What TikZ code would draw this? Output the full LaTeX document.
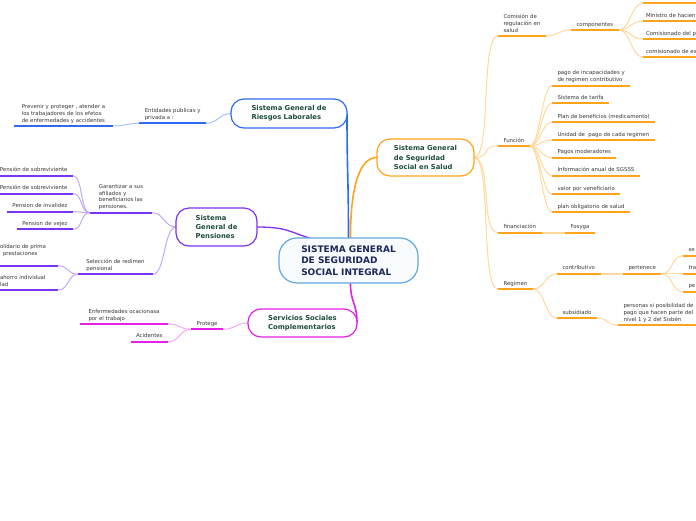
\documentclass[tikz,border=0pt]{standalone}
\usepackage{fontspec}
\setmainfont{DejaVu Sans}
\pgfdeclarelayer{bg}
\pgfsetlayers{bg,main}
\definecolor{orgM}{HTML}{FFA31A}
\definecolor{orgP}{HTML}{FFD89E}
\definecolor{bluM}{HTML}{2F6BF2}
\definecolor{bluP}{HTML}{A9C0F9}
\definecolor{purM}{HTML}{7D33F2}
\definecolor{purP}{HTML}{C4A8F8}
\definecolor{magM}{HTML}{E520E5}
\definecolor{magP}{HTML}{F4A9F4}
\definecolor{ctrB}{HTML}{62A9DD}
\definecolor{ctrF}{HTML}{F7FBFE}
\definecolor{ttlc}{HTML}{1E4D3B}
\definecolor{ctrT}{HTML}{1A2757}
\definecolor{txtc}{HTML}{383838}
\begin{document}
\begin{tikzpicture}[x=1pt,y=-1pt,
 sm/.style={font=\fontsize{5.4}{6.8}\selectfont, text=txtc, align=left, inner xsep=5.5pt, inner ysep=4pt, text depth=0pt, outer sep=0pt},
 rl/.style={sm, anchor=south west},
 ll/.style={sm, anchor=south east},
 llr/.style={sm, anchor=south east, align=right},
 topbox/.style={draw=#1, fill=white, line width=1.2pt, rounded corners=13pt, font=\fontsize{6.8}{9.2}\selectfont\bfseries, text=ttlc, align=left, inner sep=0pt, outer sep=0pt},
 ctrbox/.style={draw=ctrB, fill=ctrF, line width=1.2pt, rounded corners=18pt, font=\fontsize{9}{11.5}\selectfont\bfseries, text=ctrT, align=left, inner sep=0pt, outer sep=0pt},
 ul/.style={line width=2pt, draw=#1},
 pl/.style={line width=1pt, draw=#1},
 plw/.style={line width=2pt, draw=#1}
]
\useasboundingbox (0,0) rectangle (696,520);
\clip (0,0) rectangle (696,520);

% ---------- main boxes
\node[ctrbox, minimum width=139pt, minimum height=45pt] (ctr) at (348.5,260.5) {SISTEMA GENERAL\\DE SEGURIDAD\\SOCIAL INTEGRAL};
\node[topbox=orgM, minimum width=97pt, minimum height=37pt] (salud) at (425.5,157.5) {Sistema General\\de Seguridad\\Social en Salud};
\node[topbox=purM, minimum width=81pt, minimum height=38pt] (pen) at (216.5,227) {Sistema\\General de\\Pensiones};
\node[topbox=bluM, minimum width=116pt, minimum height=29pt] (ries) at (289,113.5) {Sistema General de\\Riesgos Laborales};
\node[topbox=magM, minimum width=109pt, minimum height=28pt] (serv) at (302.5,323) {Servicios Sociales\\Complementarios};

% ---------- Salud branch
\node[rl] (com) at (498,36) {Comisión de\\regulación en\\salud};
\node[rl] (compo) at (571,30) {componentes};
\node[rl, minimum width=60pt] (c1) at (643,3.3) {};
\node[rl, inner xsep=3pt] (c2) at (643,21) {Ministro de hacien};
\node[rl, inner xsep=3pt] (c3) at (643,39) {Comisionado del p};
\node[rl, inner xsep=3pt] (c4) at (643,57) {comisionado de ex};
\node[rl] (fun) at (498,146) {Función};
\node[rl] (f1) at (552,85.7) {pago de incapacidades y\\de regimen contributivo};
\node[rl] (f2) at (552,103.3) {Sistema de tarifa};
\node[rl] (f3) at (552,122.3) {Plan de beneficios (medicamento)};
\node[rl] (f4) at (552,140) {Unidad de\ \ pago de cada regimen};
\node[rl] (f5) at (552,157.7) {Pagos moderadores};
\node[rl] (f6) at (552,175.7) {Información anual de SGSSS};
\node[rl] (f7) at (552,194) {valor por veneficiario};
\node[rl] (f8) at (552,212) {plan obligatorio de salud};
\node[rl] (fin) at (498,232.7) {financiación};
\node[rl] (fos) at (565,232.7) {Fosyga};
\node[rl] (reg) at (498,289) {Regimen};
\node[rl] (con) at (557,273.7) {contributivo};
\node[rl] (per) at (623,273.7) {pertenece};
\node[rl] (p1) at (683,255.7) {se};
\node[rl] (p2) at (683,273.7) {tra};
\node[rl] (p3) at (683,291.7) {pe};
\node[rl] (sub) at (557,318.3) {subsidiado};
\node[rl] (pers) at (618,325) {personas si posibilidad de\\pago que hacen parte del\\nivel 1 y 2 del Sisbén};

% ---------- Riesgos branch
\node[ll] (ent) at (206,123.3) {Entidades publicas y\\privada a :};
\node[ll, minimum width=99pt] (prev) at (113,126) {Prevenir y proteger , atender a\\los trabajadores de los efetos\\de enfermedades y accidentes};

% ---------- Pensiones branch
\node[ll, minimum width=62pt] (gar) at (152,212.7) {Garantizar a sus\\afiliados y\\beneficiarios las\\pensiones.};
\node[llr] (ps1) at (73,175.7) {Pensión de sobreviviente};
\node[llr] (ps2) at (73,193.7) {Pensión de sobreviviente};
\node[llr] (pinv) at (73,211.7) {Pension de invalidez};
\node[llr] (pvej) at (73,229.3) {Pension de vejez};
\node[ll, minimum width=75pt] (sel) at (153,274.3) {Selección de redimen\\pensional};
\node[sm, anchor=south west, inner xsep=0pt, inner ysep=10pt] (sol) at (0,265.7) {olidario de prima\hspace*{12pt}\\\hspace*{3pt}prestaciones};
\node[sm, anchor=south west, inner xsep=0pt] (aho) at (0,290) {ahorro individual\hspace*{13pt}\\lad};

% ---------- Servicios branch
\node[ll] (prot) at (223,329.3) {Protege};
\node[ll, minimum width=88pt] (enf) at (168,324) {Enfermedades ocacionasa\\por el trabajo};
\node[ll] (acc) at (168,341.7) {Acidentes};

% ---------- underlines
\foreach \n in {com,compo,c1,c2,c3,c4,fun,f1,f2,f3,f4,f5,f6,f7,f8,fin,fos,reg,con,per,p1,p2,p3,sub,pers}
  \draw[ul=orgM] (\n.south west) -- (\n.south east);
\foreach \n in {ent,prev}
  \draw[ul=bluM] (\n.south west) -- (\n.south east);
\foreach \n in {gar,ps1,ps2,pinv,pvej,sel}
  \draw[ul=purM] (\n.south west) -- (\n.south east);
\foreach \n in {sol,aho}
  \draw[ul=purM] ([xshift=-3pt]\n.south west) -- (\n.south east);
\foreach \n in {prot,enf,acc}
  \draw[ul=magM] (\n.south west) -- (\n.south east);

% ---------- connectors
\begin{pgfonlayer}{bg}
\fill[white] (0,0) rectangle (696,520);
\draw[line width=1.6pt, bluM] (ries.east) .. controls +(0,60) and +(0,-60) .. (ctr.north);
\draw[line width=1.6pt, orgM] (ctr.85) .. controls +(0,-50) and +(-18,0) .. (salud.west);
\draw[line width=1.3pt, purM] (pen.east) .. controls +(30,0) and +(-20,-6) .. (ctr.150);
\draw[line width=1.6pt, magM] (ctr.-85) .. controls +(0,20) and +(0,-20) .. (serv.east);

\foreach \t in {com,fun,fin,reg}
  \draw[pl=orgP] (salud.east) .. controls +(18,0) and +(-18,0) .. (\t.south west);
\draw[pl=orgP] (com.south east) .. controls +(12,0) and +(-12,0) .. (compo.south west);
\foreach \t in {c1,c2,c3,c4}
  \draw[pl=orgP] (compo.south east) .. controls +(12,0) and +(-12,0) .. (\t.south west);
\foreach \t in {f1,f2,f3,f4,f5,f6,f7,f8}
  \draw[pl=orgP] (fun.south east) .. controls +(10,0) and +(-10,0) .. (\t.south west);
\draw[plw=orgP] (fin.south east) -- (fos.south west);
\foreach \t in {con,sub}
  \draw[pl=orgP] (reg.south east) .. controls +(12,0) and +(-12,0) .. (\t.south west);
\draw[plw=orgP] (con.south east) -- (per.south west);
\foreach \t in {p1,p2,p3}
  \draw[pl=orgP] (per.south east) .. controls +(12,0) and +(-12,0) .. (\t.south west);
\draw[pl=orgP] (sub.south east) .. controls +(12,0) and +(-12,0) .. (pers.south west);

\draw[pl=bluP] (ries.west) .. controls +(-12,0) and +(12,0) .. (ent.south east);
\draw[pl=bluP] (ent.south west) .. controls +(-12,0) and +(12,0) .. (prev.south east);

\foreach \t in {gar,sel}
  \draw[pl=purP] (pen.west) .. controls +(-12,0) and +(12,0) .. (\t.south east);
\foreach \t in {ps1,ps2,pinv,pvej}
  \draw[pl=purP] (gar.south west) .. controls +(-10,0) and +(10,0) .. (\t.south east);
\foreach \t in {sol,aho}
  \draw[pl=purP] (sel.south west) .. controls +(-10,0) and +(10,0) .. (\t.south east);

\draw[pl=magP] (serv.west) .. controls +(-12,0) and +(12,0) .. (prot.south east);
\foreach \t in {enf,acc}
  \draw[pl=magP] (prot.south west) .. controls +(-12,0) and +(12,0) .. (\t.south east);
\end{pgfonlayer}
\end{tikzpicture}
\end{document}
